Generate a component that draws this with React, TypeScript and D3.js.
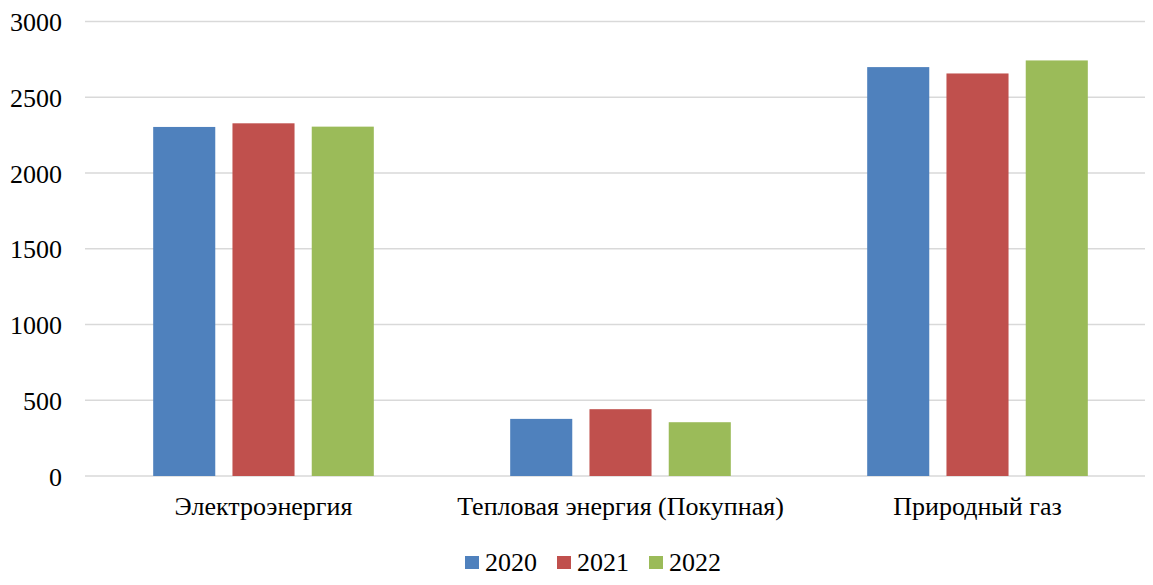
import React from "react";
import * as d3 from "d3";

const categories = ["Электроэнергия", "Тепловая энергия (Покупная)", "Природный газ"];
const years = ["2020", "2021", "2022"];
const values2020 = [2304, 377, 2699];
const values2021 = [2328, 441, 2657];
const values2022 = [2306, 355, 2743];
const yTicks = [0, 500, 1000, 1500, 2000, 2500, 3000];
const colors = ["#4f81bd", "#c0504d", "#9bbb59"];

const W = 1153;
const H = 585;
const FONT = "Times New Roman";
const FS = 26;

export default function App() {
  const series = [values2020, values2021, values2022];

  // category bands span the plot area, which runs slightly past the right edge
  const x0 = d3.scaleBand<string>().domain(categories).range([85, 1156]).padding(0);
  const bw = x0.bandwidth();
  const inset = bw * 0.191;
  const x1 = d3
    .scaleBand<string>()
    .domain(years)
    .range([inset, bw - inset])
    .paddingInner(0.217)
    .paddingOuter(0);
  const y = d3.scaleLinear().domain([0, 3000]).range([476, 21.5]);

  const legendStart = 465;
  const legendStep = 92;

  return (
    <div style={{ margin: -8, fontFamily: "Liberation Serif, serif" }}>
      <svg width={W} height={H}>
        <style>{`text { font-family: "Liberation Serif", "Times New Roman", serif; font-size: ${FS}px; }`}</style>
        {yTicks.map((t) => (
          <g key={t}>
            <line x1={85} x2={W} y1={y(t)} y2={y(t)} stroke="#d9d9d9" strokeWidth={1.5} />
            <text x={62} y={y(t) + 9.5} fontFamily={FONT} fontSize={FS} textAnchor="end" fill="#000">
              {t}
            </text>
          </g>
        ))}

        {categories.map((c, ci) => (
          <g key={c} transform={`translate(${x0(c)},0)`}>
            {years.map((yr, si) => {
              const v = series[si][ci];
              return (
                <rect
                  key={yr}
                  x={x1(yr)}
                  y={y(v)}
                  width={x1.bandwidth()}
                  height={y(0) - y(v)}
                  fill={colors[si]}
                />
              );
            })}
            <text x={bw / 2} y={515} fontFamily={FONT} fontSize={FS} textAnchor="middle" fill="#000">
              {c}
            </text>
          </g>
        ))}

        {years.map((yr, si) => (
          <g key={yr} transform={`translate(${legendStart + si * legendStep},0)`}>
            <rect x={0} y={556} width={14} height={13} fill={colors[si]} />
            <text x={20} y={571} fontFamily={FONT} fontSize={FS} fill="#000">
              {yr}
            </text>
          </g>
        ))}
      </svg>
    </div>
  );
}
